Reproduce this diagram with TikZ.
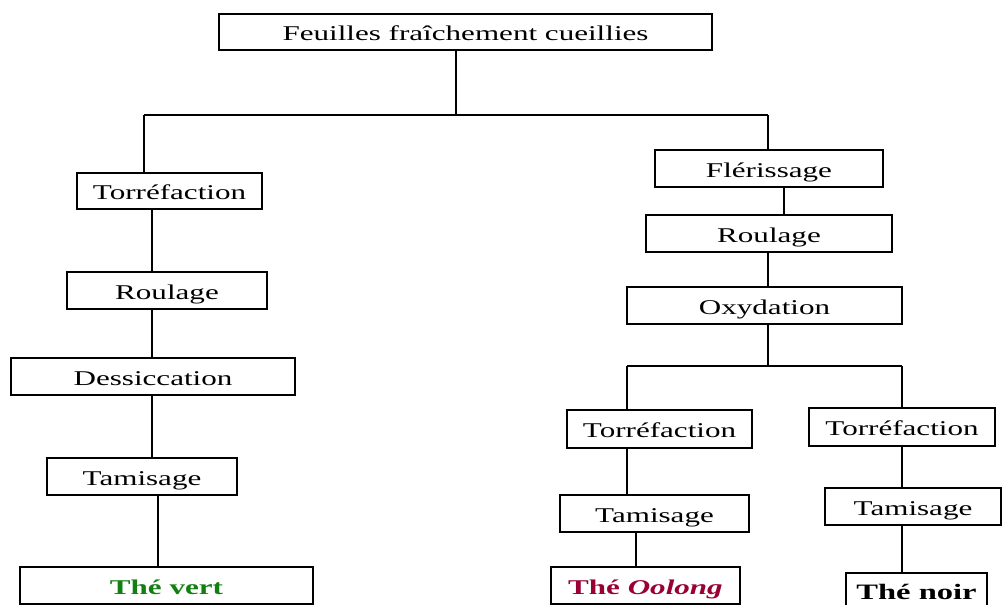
\documentclass[tikz,border=0pt]{standalone}
\usepackage{fontspec}
\setmainfont{Liberation Serif}[FakeStretch=1.48]
\definecolor{vertc}{HTML}{118011}
\definecolor{oolongc}{HTML}{990033}
\begin{document}
\begin{tikzpicture}[x=1pt,y=-1pt,
  box/.style 2 args={draw, line width=1.4pt, rectangle, inner sep=0pt,
    minimum width=#1pt, minimum height=#2pt, text height=19pt, text depth=2pt,
    font=\fontsize{21}{23}\selectfont},
  link/.style={line width=1.4pt}]
\useasboundingbox (0,0) rectangle (1002,605);
% nodes
\node[box={493}{36}] (top) at (465.5,32) {Feuilles fraîchement cueillies};
\node[box={185}{36}] (tL) at (169.5,191) {Torréfaction};
\node[box={200}{37}] (rL) at (167,290.5) {Roulage};
\node[box={284}{37}] (dL) at (153,376.5) {Dessiccation};
\node[box={190}{37}] (taL) at (142,476.5) {Tamisage};
\node[box={293}{37}] (vert) at (166.5,585.5) {\bfseries\color{vertc}Thé vert};
\node[box={228}{37}] (fl) at (769,168.5) {Flérissage};
\node[box={246}{37}] (rR) at (769,233.5) {Roulage};
\node[box={275}{37}] (ox) at (764.5,305.5) {Oxydation};
\node[box={185}{38}] (tR1) at (659.5,429) {Torréfaction};
\node[box={189}{37}] (taR1) at (654.5,513.5) {Tamisage};
\node[box={189}{37}] (oo) at (645.5,585.5) {\bfseries\color{oolongc}Thé \textit{Oolong}};
\node[box={186}{38}] (tR2) at (902,427) {Torréfaction};
\node[box={176}{37}] (taR2) at (913,506.5) {Tamisage};
\node[box={141}{35}, font=\fontsize{22}{24}\selectfont] (noir) at (916.5,590.5) {\bfseries Thé noir};
% x positions of connectors
\coordinate (xa) at (456,115);
\coordinate (xl) at (144,115);
\coordinate (xr) at (768,115);
\coordinate (xl2) at (152,0);
\coordinate (xl3) at (158,0);
\coordinate (xr2) at (784,0);
\coordinate (xs) at (768,366);
\coordinate (xsl) at (627,366);
\coordinate (xsr) at (902,366);
\coordinate (xo) at (636,0);
% connectors
\draw[link] (top.south -| xa) -- (xa);
\draw[link] (xl) -- (xr);
\draw[link] (xl) -- (tL.north -| xl);
\draw[link] (xr) -- (fl.north -| xr);
\draw[link] (tL.south -| xl2) -- (rL.north -| xl2);
\draw[link] (rL.south -| xl2) -- (dL.north -| xl2);
\draw[link] (dL.south -| xl2) -- (taL.north -| xl2);
\draw[link] (taL.south -| xl3) -- (vert.north -| xl3);
\draw[link] (fl.south -| xr2) -- (rR.north -| xr2);
\draw[link] (rR.south -| xs) -- (ox.north -| xs);
\draw[link] (ox.south -| xs) -- (xs);
\draw[link] (xsl) -- (xsr);
\draw[link] (xsl) -- (tR1.north -| xsl);
\draw[link] (xsr) -- (tR2.north -| xsr);
\draw[link] (tR1.south -| xsl) -- (taR1.north -| xsl);
\draw[link] (taR1.south -| xo) -- (oo.north -| xo);
\draw[link] (tR2.south -| xsr) -- (taR2.north -| xsr);
\draw[link] (taR2.south -| xsr) -- (noir.north -| xsr);
\end{tikzpicture}
\end{document}
